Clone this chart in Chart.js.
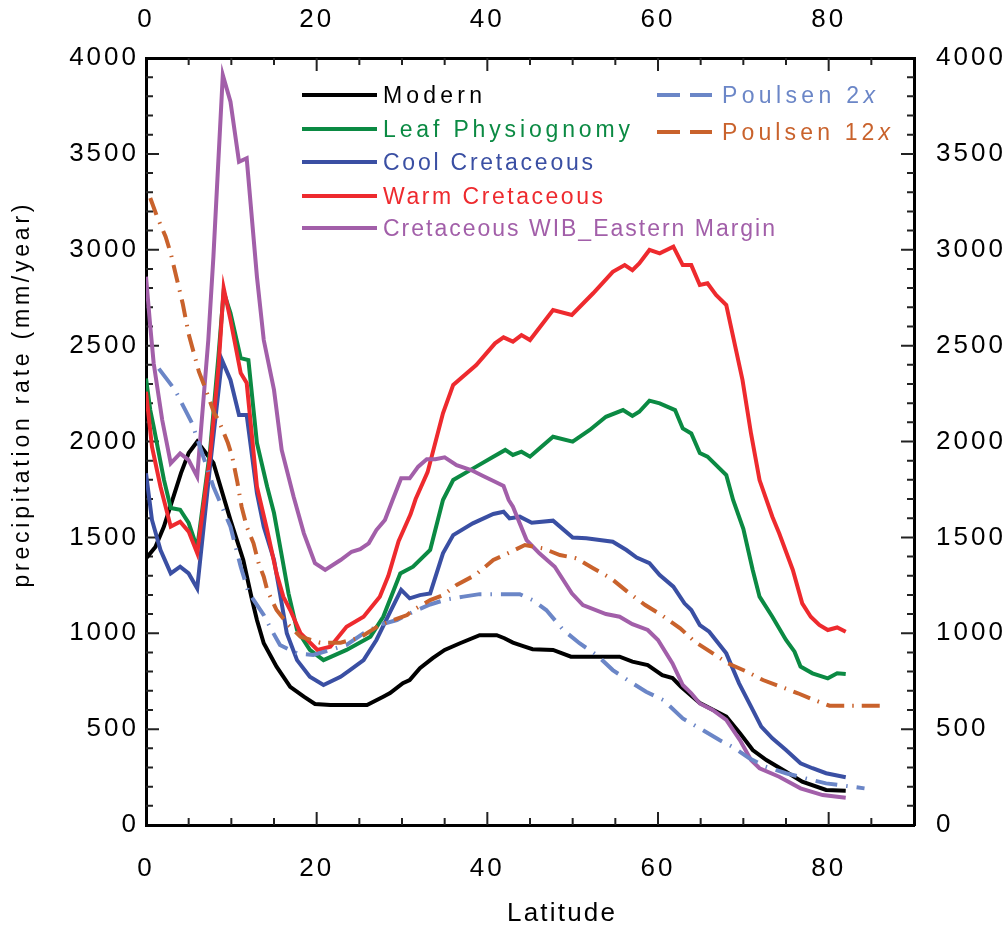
<!DOCTYPE html>
<html>
<head>
<meta charset="utf-8">
<script src="https://cdn.jsdelivr.net/npm/chart.js"></script>
<style>
  body { margin: 0; background: #fff; }
  #wrap { width: 1006px; height: 926px; }
</style>
</head>
<body>
<div id="wrap"><canvas id="chart" width="1006" height="926"></canvas></div>
<script>
// [latitude, precipitation mm/year]
var modern = [[0,1390],[1.1,1450],[2.1,1556],[3.1,1695],[4.1,1835],[5.0,1940],[6.0,2000],[7.9,1888],[9.9,1590],[11.4,1382],[12.4,1180],[13.0,1069],[13.8,948],[15.3,826],[16.9,721],[18.5,669],[19.8,631],[21.6,626],[25.9,626],[27.8,669],[28.6,688],[30.1,740],[30.9,756],[32.1,818],[33.6,870],[35.0,913],[36.8,948],[39.1,990],[41.1,990],[42.0,974],[43.0,951],[44.2,933],[45.3,917],[47.7,913],[49.8,878],[55.5,878],[57.0,852],[58.8,834],[60.5,782],[61.7,766],[62.7,721],[64.9,636],[68.0,565],[69.6,479],[71.1,391],[72.7,339],[75.0,278],[76.9,226],[79.7,183],[82.0,179]];

var leaf = [[0,2329],[0.5,2164],[0.9,2078],[2.1,1801],[2.9,1653],[4.0,1644],[5.0,1575],[6.0,1444],[7.5,1950],[8.5,2450],[9.1,2780],[9.9,2670],[11.1,2435],[12.0,2425],[13.0,1992],[14.2,1764],[15.0,1627],[16.0,1382],[16.7,1208],[17.7,1017],[19.2,913],[20.8,860],[23.5,913],[26.3,982],[27.8,1086],[29.8,1312],[31.3,1347],[33.3,1434],[34.8,1695],[36.0,1799],[38.7,1869],[40.7,1921],[42.1,1956],[43.0,1930],[44.0,1947],[45.0,1921],[45.9,1956],[47.7,2025],[50.0,1999],[52.0,2060],[53.9,2129],[55.9,2164],[57.0,2133],[57.8,2155],[59.0,2213],[60.2,2199],[62.0,2164],[62.9,2068],[63.9,2042],[64.9,1940],[65.8,1921],[68.0,1825],[68.8,1695],[70.0,1545],[71.1,1330],[71.9,1191],[73.4,1086],[75.0,965],[76.0,904],[76.7,826],[78.1,791],[79.9,765],[81.0,791],[82.0,787]];

var cool = [[0,1834],[0.7,1591],[1.7,1434],[2.9,1312],[4.0,1347],[5.0,1312],[6.0,1234],[7.5,1869],[8.9,2425],[9.9,2321],[10.9,2138],[11.8,2138],[13.0,1730],[13.8,1556],[15.0,1382],[15.7,1208],[16.5,1000],[17.7,860],[19.2,773],[20.8,730],[22.8,773],[23.9,808],[25.5,860],[27.0,965],[28.6,1110],[29.9,1226],[30.9,1182],[32.1,1199],[33.3,1208],[34.8,1417],[36.0,1512],[38.3,1573],[40.7,1622],[41.9,1634],[42.6,1599],[43.8,1608],[45.2,1576],[47.7,1587],[50.0,1499],[51.6,1495],[54.7,1477],[56.3,1434],[57.5,1395],[59.0,1365],[60.2,1304],[61.8,1243],[63.1,1156],[63.9,1121],[64.9,1043],[66.0,1008],[68.0,895],[69.5,739],[71.1,600],[72.1,513],[73.4,452],[75.0,391],[76.7,322],[78.1,296],[79.7,270],[82.0,249]];

var warm = [[0,2260],[0.7,1973],[1.7,1764],[2.9,1556],[4.0,1582],[5.0,1530],[6.0,1418],[7.5,1921],[8.5,2390],[9.1,2800],[9.9,2634],[11.1,2357],[11.8,2305],[13.0,1764],[14.2,1538],[15.3,1312],[16.1,1190],[16.9,1121],[18.1,1001],[20.1,913],[21.6,930],[23.5,1034],[25.5,1086],[27.4,1190],[28.4,1300],[29.6,1480],[31.0,1620],[31.6,1700],[33.0,1840],[34.8,2147],[36.0,2295],[38.7,2399],[40.9,2512],[41.9,2543],[43.0,2521],[44.0,2555],[45.0,2529],[47.7,2686],[49.9,2660],[52.4,2773],[54.7,2885],[56.1,2920],[57.0,2894],[57.8,2929],[59.0,2999],[60.2,2981],[61.8,3016],[62.9,2920],[63.9,2920],[64.9,2816],[65.8,2825],[66.8,2764],[68.0,2712],[69.9,2321],[70.9,2042],[71.9,1799],[73.4,1608],[74.2,1521],[75.8,1330],[76.9,1156],[77.9,1086],[78.9,1043],[79.9,1017],[81.0,1030],[82.0,1008]];

var wib = [[0,2859],[0.5,2600],[0.9,2408],[1.9,2112],[2.9,1886],[4.0,1938],[5.0,1903],[6.0,1817],[7.3,2529],[7.9,2964],[9.0,3911],[9.9,3772],[10.9,3459],[11.8,3477],[13.0,2859],[13.8,2529],[15.0,2269],[15.9,1956],[17.3,1712],[18.5,1521],[19.8,1365],[21.0,1330],[22.8,1382],[24.1,1425],[25.1,1438],[26.1,1469],[27.0,1538],[28.0,1591],[28.9,1695],[29.9,1808],[30.9,1808],[31.9,1869],[32.9,1907],[33.9,1907],[35.0,1917],[36.4,1877],[38.1,1851],[39.5,1820],[40.9,1790],[41.9,1768],[42.5,1695],[43.0,1660],[44.6,1486],[46.1,1417],[47.9,1347],[49.9,1208],[51.2,1147],[53.9,1100],[55.5,1086],[57.0,1047],[58.8,1017],[60.0,965],[61.7,843],[62.9,730],[63.9,687],[64.9,634],[66.4,600],[68.0,548],[69.6,443],[70.9,339],[71.9,296],[74.2,252],[76.7,191],[79.3,156],[82.0,142]];

var poulsen2 = [[1.5,2380],[3.4,2269],[5.4,2095],[7.9,1764],[9.9,1556],[11.1,1347],[12.0,1215],[13.8,1095],[14.6,1026],[15.7,939],[17.7,895],[19.6,887],[21.6,913],[23.5,939],[25.5,1000],[27.4,1043],[29.4,1069],[31.3,1112],[33.3,1150],[35.2,1176],[37.2,1191],[39.1,1204],[43.8,1204],[45.3,1173],[46.9,1121],[48.9,1017],[50.8,948],[52.8,887],[54.7,808],[56.7,748],[58.6,695],[60.6,652],[62.9,556],[64.9,504],[67.2,443],[68.7,408],[70.7,348],[72.6,304],[75.0,270],[77.3,243],[79.7,217],[82.0,204],[84.2,191]];

var poulsen12 = [[0.5,3270],[1.3,3172],[2.3,3068],[2.9,2981],[4.3,2720],[5.0,2560],[6.2,2364],[6.8,2295],[8.0,2147],[8.5,2112],[9.6,1992],[10.1,1921],[10.7,1790],[11.2,1660],[11.8,1556],[12.6,1469],[13.2,1365],[13.8,1295],[14.2,1226],[15.3,1121],[16.7,1043],[18.1,982],[20.4,951],[22.8,951],[25.1,978],[27.4,1043],[30.6,1095],[31.3,1121],[33.3,1173],[34.8,1199],[36.4,1252],[38.6,1304],[40.7,1382],[42.8,1425],[44.4,1460],[46.5,1443],[48.5,1408],[50.4,1391],[52.4,1339],[54.5,1286],[56.4,1217],[58.5,1147],[60.4,1095],[62.6,1026],[64.3,956],[66.7,887],[68.2,843],[70.4,800],[72.3,756],[74.4,721],[76.4,687],[78.3,652],[80.1,622],[86.7,622]];

var seriesNames = ["Modern", "Leaf Physiognomy", "Cool Cretaceous", "Warm Cretaceous", "Cretaceous WIB_Eastern Margin", "Poulsen 2x", "Poulsen 12x"];
var seriesData = [modern, leaf, cool, warm, wib, poulsen2, poulsen12];
var colors = ["#000000", "#0b8a43", "#3a4fa3", "#ee2a2e", "#a25fa9", "#6b86c7", "#c9622c"];
var dashes = [[], [], [], [], [], [22, 9, 1.5, 9], [18, 8, 1.5, 8]];

var xTicks = [0, 20, 40, 60, 80];
var FONT = "'Liberation Sans', Arial, sans-serif";

function toPoints(arr) {
    return arr.map(function (p) { return {x: p[0], y: p[1]}; });
}

var datasets = [];
for (let i = seriesData.length - 1; i >= 0; i--) {
    datasets.push({
        label: seriesNames[i],
        data: toPoints(seriesData[i]),
        borderColor: colors[i],
        borderWidth: 4,
        borderDash: dashes[i],
        borderCapStyle: 'butt',
        pointRadius: 0,
        tension: 0,
        fill: false
    });
}

// text drawn with letter spacing so it spans a given width
function spaced(ctx, text, x, y, width, align) {
    ctx.letterSpacing = '0px';
    var w0 = ctx.measureText(text).width;
    var ls = (width - w0) / (text.length - 1);
    ctx.letterSpacing = ls + 'px';
    var sx = x;
    if (align === 'center') sx = x - width / 2;
    if (align === 'right') sx = x - width;
    ctx.textAlign = 'left';
    ctx.fillText(text, sx, y);
    ctx.letterSpacing = '0px';
}

// legend layout: [series index, row y, text width]
var legendLeft = [[0, 95, 99], [1, 129, 247], [2, 162, 210], [3, 196, 220], [4, 228, 392]];
var legendRight = [[5, 95, 153], [6, 132, 168]];

var framePlugin = {
    id: 'framePlugin',
    beforeDraw: function (chart) {
        chart.ctx.letterSpacing = '3px';
    },
    beforeDatasetsDraw: function (chart) {
        var ctx = chart.ctx, a = chart.chartArea, sx = chart.scales.x, sy = chart.scales.y;
        ctx.save();
        ctx.strokeStyle = '#222';
        ctx.lineWidth = 2;
        ctx.beginPath();
        for (let v = 5; v < 90; v += 5) {
            let px = sx.getPixelForValue(v);
            let len = v % 20 === 0 ? 13 : 7;
            ctx.moveTo(px, a.bottom); ctx.lineTo(px, a.bottom - len);
            ctx.moveTo(px, a.top); ctx.lineTo(px, a.top + len);
        }
        for (let v = 100; v < 4000; v += 100) {
            let py = sy.getPixelForValue(v);
            let len = v % 500 === 0 ? 13 : 7;
            ctx.moveTo(a.left, py); ctx.lineTo(a.left + len, py);
            ctx.moveTo(a.right, py); ctx.lineTo(a.right - len, py);
        }
        ctx.stroke();
        ctx.restore();
    },
    afterDraw: function (chart) {
        var ctx = chart.ctx;
        ctx.save();
        ctx.textBaseline = 'alphabetic';

        // axis titles
        ctx.fillStyle = '#000';
        ctx.font = '26px ' + FONT;
        spaced(ctx, 'Latitude', 561, 921, 108, 'center');
        ctx.save();
        ctx.translate(29, 396);
        ctx.rotate(-Math.PI / 2);
        ctx.font = '23px ' + FONT;
        spaced(ctx, 'precipitation rate (mm/year)', 0, 0, 383, 'center');
        ctx.restore();

        // legend
        ctx.font = '23px ' + FONT;
        legendLeft.forEach(function (l) {
            var i = l[0];
            ctx.strokeStyle = colors[i];
            ctx.lineWidth = 4;
            ctx.setLineDash([]);
            ctx.beginPath();
            ctx.moveTo(302, l[1]); ctx.lineTo(377, l[1]);
            ctx.stroke();
            ctx.fillStyle = colors[i];
            spaced(ctx, seriesNames[i], 383, l[1] + 8, l[2], 'left');
        });
        legendRight.forEach(function (l) {
            var i = l[0];
            ctx.strokeStyle = colors[i];
            ctx.lineWidth = 4;
            ctx.beginPath();
            ctx.moveTo(657, l[1]); ctx.lineTo(680, l[1]);
            ctx.moveTo(690, l[1]); ctx.lineTo(712, l[1]);
            ctx.stroke();
            ctx.fillStyle = colors[i];
            var name = seriesNames[i];
            var head = name.slice(0, -1);
            ctx.font = '23px ' + FONT;
            ctx.letterSpacing = '0px';
            var w0 = ctx.measureText(name).width;
            var ls = (l[2] - w0) / (name.length - 1);
            ctx.letterSpacing = ls + 'px';
            ctx.textAlign = 'left';
            ctx.fillText(head, 722, l[1] + 8);
            var hw = ctx.measureText(head).width;
            ctx.font = 'italic 23px ' + FONT;
            ctx.fillText(name.slice(-1), 722 + hw, l[1] + 8);
            ctx.font = '23px ' + FONT;
        });
        ctx.restore();
    }
};

function plain(v) { return String(v); }

function xAxis(pos, pad, h) {
    return {
        type: 'linear', axis: 'x', position: pos, min: 0, max: 90,
        grid: {display: false, drawTicks: false},
        border: {display: true, width: 3, color: '#000'},
        ticks: {stepSize: 20, padding: pad, color: '#000', font: {family: FONT, size: 26}, maxRotation: 0, callback: plain},
        afterBuildTicks: function (s) { s.ticks = xTicks.map(function (v) { return {value: v}; }); },
        afterFit: function (s) { s.height = h; }
    };
}

function yAxis(pos, pad, w) {
    return {
        type: 'linear', axis: 'y', position: pos, min: 0, max: 4000,
        grid: {display: false, drawTicks: false},
        border: {display: true, width: 3, color: '#000'},
        ticks: {stepSize: 500, padding: pad, color: '#000', font: {family: FONT, size: 26}, callback: plain},
        afterFit: function (s) { s.width = w; }
    };
}

new Chart(document.getElementById('chart'), {
    type: 'line',
    data: {datasets: datasets},
    options: {
        responsive: false,
        animation: false,
        layout: {padding: 0},
        plugins: {legend: {display: false}, tooltip: {enabled: false}},
        scales: {
            x: xAxis('bottom', 28, 101),
            x2: xAxis('top', 23, 58),
            y: yAxis('left', 7, 146),
            y2: yAxis('right', 22, 92)
        }
    },
    plugins: [framePlugin]
});
</script>
</body>
</html>
